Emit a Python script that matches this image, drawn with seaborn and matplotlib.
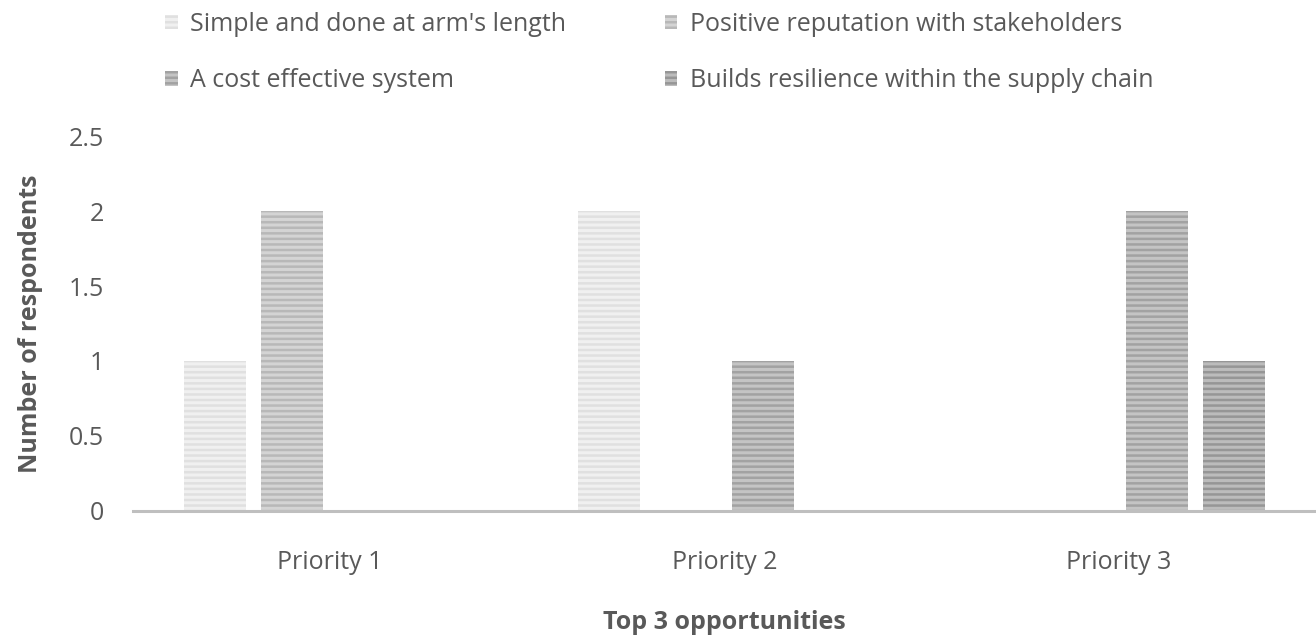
import matplotlib
matplotlib.use("Agg")
import matplotlib.pyplot as plt
import matplotlib.patches as mpatches
import pandas as pd
import seaborn as sns

# Survey results: number of respondents per opportunity, by priority rank
priorities = ["Priority 1", "Priority 2", "Priority 3"]
series = [
    "Simple and done at arm's length",
    "Positive reputation with stakeholders",
    "A cost effective system",
    "Builds resilience within the supply chain",
]
simple_arms_length = [1, 2, 0]
positive_reputation = [2, 0, 0]
cost_effective = [0, 1, 2]
builds_resilience = [0, 0, 1]

values = [simple_arms_length, positive_reputation, cost_effective, builds_resilience]
y_ticks = [0, 0.5, 1, 1.5, 2, 2.5]
y_tick_labels = ["0", "0.5", "1", "1.5", "2", "2.5"]

# Striped grey fills: base colour plus a lighter horizontal hatch
face_colors = ["#E0E0E0", "#B8B8B8", "#A2A2A2", "#969696"]
stripe_colors = ["#F0F0F0", "#D4D4D4", "#C4C4C4", "#BCBCBC"]

rows = []
for name, vals in zip(series, values):
    for cat, v in zip(priorities, vals):
        rows.append({"Priority": cat, "Opportunity": name, "Respondents": v})
df = pd.DataFrame(rows)

text_color = "#595959"
font_size = 18
plt.rcParams["font.family"] = ["Open Sans", "DejaVu Sans"]
plt.rcParams["hatch.linewidth"] = 2.2

fig = plt.figure(figsize=(13.16, 6.35), dpi=100)
ax = fig.add_axes([0.101, 0.1953, 0.899, 0.5905])

sns.barplot(
    data=df, x="Priority", y="Respondents", hue="Opportunity",
    order=priorities, hue_order=series, palette=face_colors,
    width=0.78, gap=0.195, legend=False, ax=ax, errorbar=None,
)

for container, fc, sc in zip(ax.containers, face_colors, stripe_colors):
    for bar in container:
        bar.set_facecolor(fc)
        bar.set_edgecolor(sc)
        bar.set_linewidth(0)
        bar.set_hatch("---")

ax.set_ylim(0, 2.5)
ax.set_xlim(-0.5, 2.5)
ax.set_yticks(y_ticks)
ax.set_yticklabels(y_tick_labels)
ax.tick_params(axis="both", length=0, labelsize=font_size, labelcolor=text_color)
ax.tick_params(axis="y", pad=21)
ax.tick_params(axis="x", pad=28)

for side in ["top", "right", "left"]:
    ax.spines[side].set_visible(False)
ax.spines["bottom"].set_color("#BFBFBF")
ax.spines["bottom"].set_linewidth(2.2)
ax.grid(False)

ax.set_xlabel("Top 3 opportunities", fontsize=font_size, fontweight="bold",
              color=text_color, labelpad=25)
ax.set_ylabel("Number of respondents", fontsize=font_size, fontweight="bold",
              color=text_color, labelpad=18)

handles = []
for name, fc, sc in zip(series, face_colors, stripe_colors):
    handles.append(mpatches.Patch(facecolor=fc, edgecolor=sc, hatch="---",
                                  linewidth=0, label=name))
order = [0, 2, 1, 3]
leg = fig.legend(
    [handles[i] for i in order], [series[i] for i in order],
    ncol=2, loc="upper left", bbox_to_anchor=(165 / 1316, 1.0 - 12 / 635),
    frameon=False, fontsize=font_size, labelcolor=text_color,
    handlelength=0.5, handleheight=0.5, handletextpad=0.5,
    labelspacing=1.25, columnspacing=3.95, borderaxespad=0, borderpad=0,
)

fig.savefig("out.png", dpi=100, facecolor="white")
